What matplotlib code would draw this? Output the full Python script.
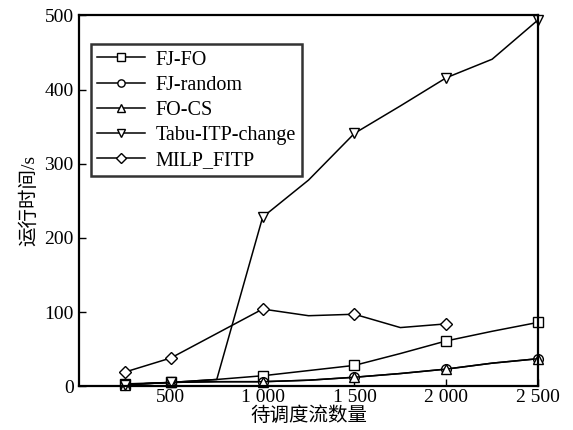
import matplotlib
matplotlib.use("Agg")
import matplotlib.pyplot as plt

plt.rcParams['font.family'] = ['Liberation Serif', 'Noto Sans CJK SC']

# flow counts (every 250, markers only on some of them)
flows = [250, 500, 750, 1000, 1250, 1500, 1750, 2000, 2250, 2500]
fj_fo = [3, 5, 9, 14, 21, 28, 44, 61, 74, 86]
fj_random = [2, 5, 6, 6, 8, 12, 17, 23, 31, 37]
fo_cs = [2, 5, 6, 6, 8, 12, 17, 23, 31, 37]
tabu = [2, 5, 9, 228, 278, 341, 378, 416, 441, 494]
milp_flows = [250, 500, 1000, 1250, 1500, 1750, 2000]
milp = [19, 38, 104, 95, 97, 79, 84]

xticks = [500, 1000, 1500, 2000, 2500]
xtick_labels = ['500', '1 000', '1 500', '2 000', '2 500']

fig = plt.figure(figsize=(5.73, 4.30), dpi=100)
ax = fig.add_axes([0.138, 0.102, 0.801, 0.862])

mk = [0, 1, 3, 5, 7, 9]
style = dict(color='black', lw=1.1, mfc='white', mec='black', mew=1.0, clip_on=False)
ax.plot(flows, fj_fo, marker='s', ms=7, markevery=mk, label='FJ-FO', **style)
ax.plot(flows, fj_random, marker='o', ms=7, markevery=mk, label='FJ-random', **style)
ax.plot(flows, fo_cs, marker='^', ms=7, markevery=mk, label='FO-CS', **style)
ax.plot(flows, tabu, marker='v', ms=7, markevery=mk, label='Tabu-ITP-change', **style)
ax.plot(milp_flows, milp, marker='D', ms=6.5, markevery=[0, 1, 2, 4, 6],
        label='MILP_FITP', **style)

ax.set_xlim(0, 2500)
ax.set_ylim(0, 500)
ax.set_xticks(xticks)
ax.set_xticklabels(xtick_labels)
ax.set_yticks([0, 100, 200, 300, 400, 500])
ax.tick_params(direction='in', length=5, width=1, labelsize=14, pad=4)
ax.tick_params(axis='x', pad=2)

for s in ax.spines.values():
    s.set_linewidth(1.6)

ax.set_xlabel('待调度流数量', fontsize=14, labelpad=0)
ax.set_ylabel('运行时间/s', fontsize=14, labelpad=4)

leg = ax.legend(loc='upper left', bbox_to_anchor=(0.026, 0.922), borderaxespad=0,
                fontsize=14.5, frameon=True, fancybox=False, edgecolor='black',
                handlelength=2.4, markerscale=0.75, labelspacing=0.3,
                borderpad=0.3, handletextpad=0.5)
leg.get_frame().set_linewidth(1.8)

fig.savefig('out.png', dpi=100)
